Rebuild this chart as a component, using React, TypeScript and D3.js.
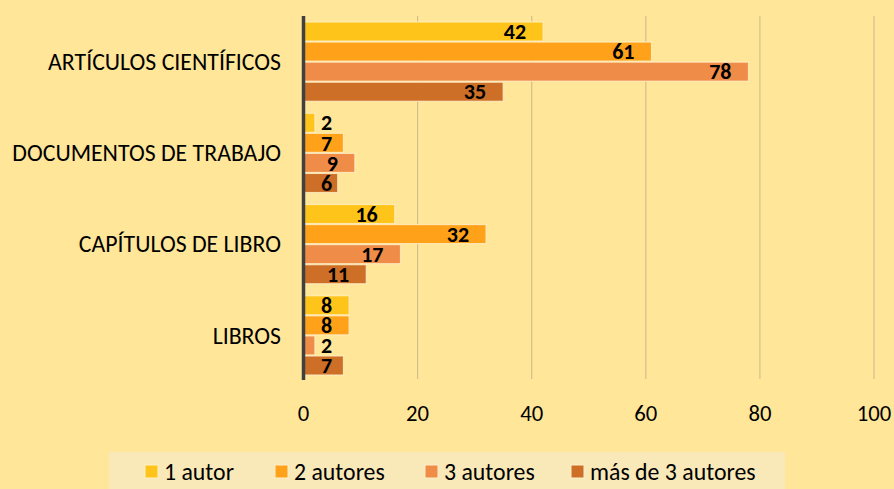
import * as d3 from 'd3';

const categories = ['ARTÍCULOS CIENTÍFICOS', 'DOCUMENTOS DE TRABAJO', 'CAPÍTULOS DE LIBRO', 'LIBROS'];
const seriesNames = ['1 autor', '2 autores', '3 autores', 'más de 3 autores'];
const seriesColors = ['#FFC41A', '#FFA21A', '#EF8C48', '#CD6F27'];
// values[serie][categoría]
const values = [
  [42, 2, 16, 8],
  [61, 7, 32, 8],
  [78, 9, 17, 2],
  [35, 6, 11, 7],
];
const xTicks = [0, 20, 40, 60, 80, 100];

const W = 894;
const H = 489;
const FONT = 'Carlito, Calibri, Lato, sans-serif';
const FS = 22.7; // 17pt
const FS_CAT = 23.8;

// posiciones de la leyenda (cuadro)
const legendX = [145, 275, 425, 571];

export default function App() {
  const x = d3.scaleLinear().domain([0, 100]).range([303.5, 874]);
  const y = d3.scaleBand<string>().domain(categories).range([16, 381]).paddingInner(0.12).paddingOuter(0.06);
  const ySub = d3.scaleBand<number>().domain(d3.range(seriesNames.length)).range([0, y.bandwidth()]);

  return (
    <svg width={W} height={H} style={{ position: 'absolute', left: 0, top: 0, display: 'block' }}>
      <rect x={0} y={0} width={W} height={H} fill="#FFE699" />

      {/* rejilla */}
      {xTicks.slice(1).map((t) => (
        <line key={t} x1={x(t)} x2={x(t)} y1={16} y2={379} stroke="#D2C08A" strokeWidth={1.2} />
      ))}

      {/* barras */}
      {values.map((serie, si) =>
        serie.map((v, ci) => {
          const by = (y(categories[ci]) ?? 0) + (ySub(si) ?? 0);
          const bh = ySub.bandwidth();
          const end = x(v);
          const label = String(v);
          const tw = label.length * 11.2;
          const lx = Math.max(end - 17, 321 + tw);
          return (
            <g key={`${si}-${ci}`}>
              <rect
                x={x(0)}
                y={by + 0.5}
                width={end - x(0)}
                height={bh - 1}
                fill={seriesColors[si]}
                stroke="#FFF0C8"
                strokeOpacity={0.8}
                strokeWidth={1.2}
              />
              <text
                x={lx}
                y={by + bh / 2}
                dy="0.35em"
                textAnchor="end"
                fontFamily={FONT}
                fontWeight="bold"
                fontSize={22}
                fill="#000"
              >
                {label}
              </text>
            </g>
          );
        })
      )}

      {/* eje vertical */}
      <line x1={x(0)} x2={x(0)} y1={16} y2={380} stroke="#404040" strokeWidth={3.5} />

      {/* categorías */}
      {categories.map((c) => (
        <text
          key={c}
          x={281}
          y={(y(c) ?? 0) + y.bandwidth() / 2}
          dy="0.35em"
          textAnchor="end"
          fontFamily={FONT}
          fontSize={FS_CAT}
          fill="#000"
        >
          {c}
        </text>
      ))}

      {/* etiquetas del eje x */}
      {xTicks.map((t) => (
        <text key={t} x={x(t)} y={413} dy="0.35em" textAnchor="middle" fontFamily={FONT} fontSize={FS} fill="#000">
          {t}
        </text>
      ))}

      {/* leyenda */}
      <rect x={109} y={452} width={676} height={37} fill="#F9E8B8" />
      {seriesNames.map((s, i) => (
        <g key={s}>
          <rect x={legendX[i]} y={465} width={13} height={13} fill={seriesColors[i]} stroke="#FFF0C8" strokeWidth={1} />
          <text x={legendX[i] + 19} y={471.5} dy="0.35em" fontFamily={FONT} fontSize={FS_CAT} fill="#000">
            {s}
          </text>
        </g>
      ))}
    </svg>
  );
}
